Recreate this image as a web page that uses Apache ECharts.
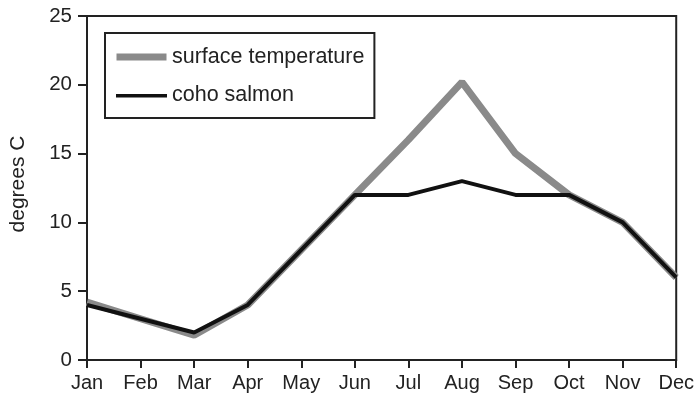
<!DOCTYPE html>
<html>
<head>
<meta charset="utf-8">
<script src="https://cdn.jsdelivr.net/npm/echarts@6/dist/echarts.min.js"></script>
<style>html,body{margin:0;padding:0;background:#fff;}#c{width:697px;height:399px;}</style>
</head>
<body>
<div id="c"></div>
<script>
const months = ['Jan','Feb','Mar','Apr','May','Jun','Jul','Aug','Sep','Oct','Nov','Dec'];
const surfaceTemp = [4.2, 3.0, 1.8, 4.0, 8.0, 12.0, 16.0, 20.2, 15.0, 12.0, 10.0, 6.0];
const cohoSalmon = [4.0, 3.0, 2.0, 4.0, 8.0, 12.0, 12.0, 13.0, 12.0, 12.0, 10.0, 6.0];
const yTicks = [0, 5, 10, 15, 20, 25];

const FONT = '"Liberation Sans", Arial, sans-serif';
const chart = echarts.init(document.getElementById('c'), null, {renderer: 'canvas'});
chart.setOption({
  animation: false,
  backgroundColor: '#fff',
  grid: {left: 87, right: 20, top: 16, bottom: 39, show: true, borderColor: '#222', borderWidth: 2, backgroundColor: 'transparent'},
  legend: {
    left: 105, top: 33,
    orient: 'vertical',
    padding: [13, 10, 12, 11],
    borderColor: '#222', borderWidth: 2,
    itemWidth: 51, itemHeight: 7, itemGap: 16,
    textStyle: {fontFamily: FONT, fontSize: 21.5, color: '#222', lineHeight: 20, padding: [0,0,0,0]},
    data: [
      {name: 'surface temperature', icon: 'path://M0,0H50V7H0Z'},
      {name: 'coho salmon', icon: 'path://M0,0M0,1.5H50V5H0Z'}
    ]
  },
  xAxis: {
    type: 'category', data: months, boundaryGap: false,
    axisLine: {lineStyle: {color: '#222', width: 2}},
    axisTick: {show: true, length: 8, lineStyle: {color: '#222', width: 2}, alignWithLabel: true},
    axisLabel: {fontFamily: FONT, fontSize: 20, color: '#222', margin: 13, interval: 0},
    splitLine: {show: false}
  },
  yAxis: {
    type: 'value', min: 0, max: 25, interval: 5,
    name: 'degrees C', nameLocation: 'middle', nameGap: 58,
    nameTextStyle: {fontFamily: FONT, fontSize: 21, color: '#222', padding: [0, 0, 0, 8]},
    axisLine: {show: true, lineStyle: {color: '#222', width: 2}},
    axisTick: {show: true, length: 9, lineStyle: {color: '#222', width: 2}},
    axisLabel: {fontFamily: FONT, fontSize: 20.5, color: '#222', margin: 15,
      formatter: v => yTicks.includes(v) ? String(v) : ''},
    splitLine: {show: false}
  },
  series: [
    {name: 'surface temperature', type: 'line', data: surfaceTemp, symbol: 'none',
     color: '#8a8a8a', lineStyle: {color: '#8a8a8a', width: 7}, z: 2},
    {name: 'coho salmon', type: 'line', data: cohoSalmon, symbol: 'none',
     color: '#111', lineStyle: {color: '#111', width: 4}, z: 3}
  ]
});
</script>
</body>
</html>
